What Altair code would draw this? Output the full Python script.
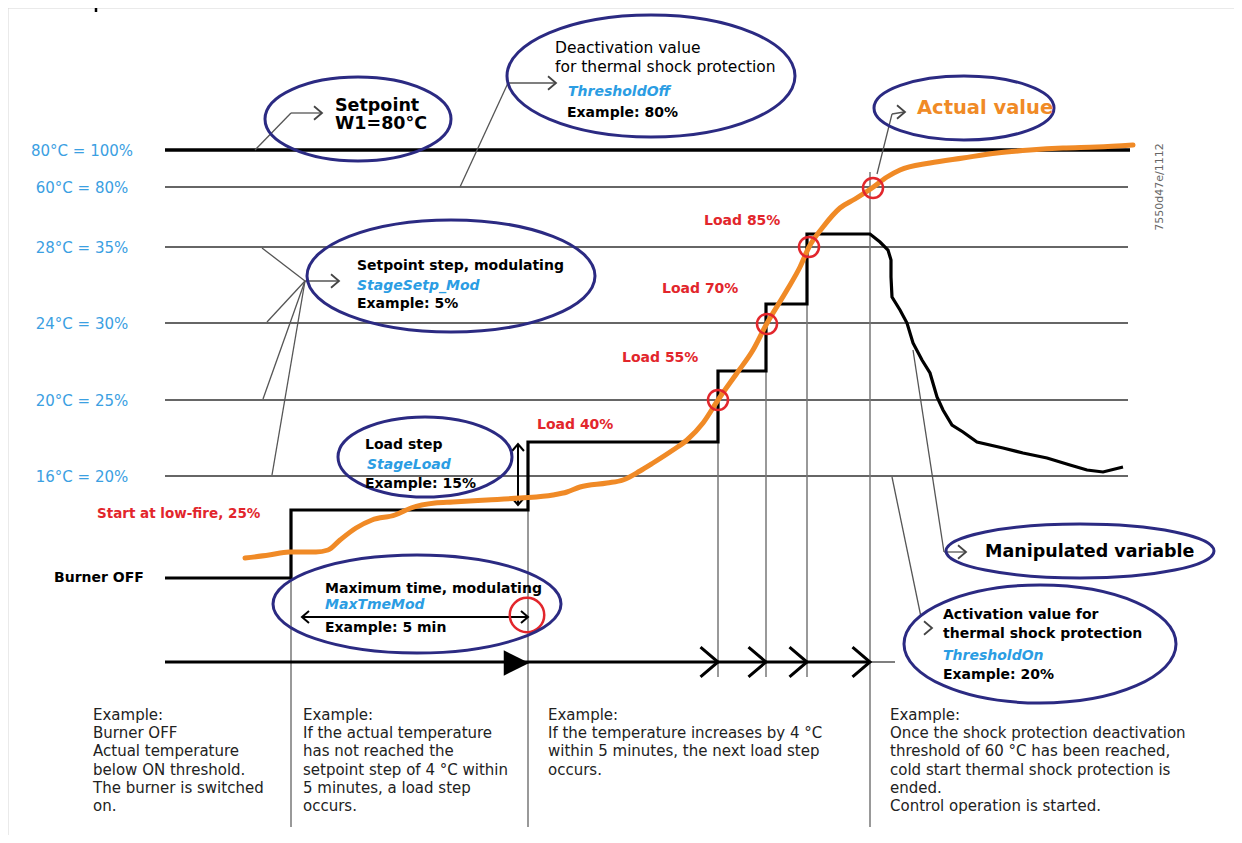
import altair as alt
import pandas as pd

# ---------------- data (diagram units: time to the right, level downwards) ----------------
level_labels = ["80°C = 100%", "60°C = 80%", "28°C = 35%", "24°C = 30%", "20°C = 25%", "16°C = 20%"]
level_y = [150, 187, 247, 323, 400, 476]
level_end = [1130, 1128, 1128, 1128, 1128, 1128]

# manipulated variable (burner load)
mv_t = [165, 291, 291, 528, 528, 718, 718, 766, 766, 807, 807, 870, 880, 888, 891, 891, 892, 900, 907,
        913, 922, 930, 937, 943, 952, 963, 977, 1003, 1023, 1047, 1070, 1087, 1103, 1123]
mv_v = [578, 578, 510, 510, 442, 442, 371, 371, 304, 304, 234, 234, 242, 250, 260, 277, 297, 310, 323,
        343, 360, 373, 397, 410, 425, 432, 442, 448, 453, 458, 465, 470, 472, 467]

# actual value (temperature)
av_t = [245, 269, 289, 316, 328, 340, 356, 372, 395, 411, 435, 453, 487, 520, 553, 567, 580, 607, 623,
        640, 653, 673, 687, 703, 718, 737, 753, 766, 787, 800, 809, 823, 840, 855, 872, 887, 900, 930,
        963, 997, 1030, 1063, 1097, 1133]
av_v = [558, 555, 552, 552, 550, 540, 528, 520, 515, 508, 503, 502, 500, 498, 495, 492, 487, 483, 480,
        471, 463, 450, 440, 423, 400, 373, 350, 325, 290, 267, 247, 227, 208, 199, 188, 177, 170, 163,
        158, 153, 150, 148, 147, 145]

# load-step switching points
sw_t = [718, 767, 809, 873]
sw_v = [400, 324, 247, 188]
load_labels = ["Load 55%", "Load 70%", "Load 85%"]

# step instants on the time line
step_times = [291, 528, 718, 766, 807, 870]
step_tops = [510, 510, 442, 371, 304, 172]
step_bottoms = [827, 827, 677, 677, 677, 827]

# callout ellipses: centre and radii
ell_cx = [358, 651, 964, 451, 425, 417, 1080, 1040]
ell_cy = [119, 76, 108, 276, 457, 604, 551, 644]
ell_rx = [93, 144, 90, 144, 87, 144, 134, 136]
ell_ry = [42, 61, 32, 56, 40, 49, 27, 59]

col1 = ["Example:", "Burner OFF", "Actual temperature", "below ON threshold.", "The burner is switched", "on."]
col2 = ["Example:", "If the actual temperature", "has not reached the", "setpoint step of 4 °C within",
        "5 minutes, a load step", "occurs."]
col3 = ["Example:", "If the temperature increases by 4 °C", "within 5 minutes, the next load step", "occurs."]
col4 = ["Example:", "Once the shock protection deactivation", "threshold of 60 °C has been reached,",
        "cold start thermal shock protection is", "ended.", "Control operation is started."]

# ---------------- styling ----------------
NAVY = "#2b2a82"
BLUE = "#2b9de3"
LBLUE = "#3ba0e2"
RED = "#e2262c"
ORANGE = "#f08a26"
GREY = "#666666"
FONT = "DejaVu Sans"

W, H = 1226, 827
XS = alt.Scale(domain=[8, 8 + W], nice=False, zero=False)
YS = alt.Scale(domain=[8, 8 + H], nice=False, zero=False, reverse=True)


def enc(**kw):
    return dict(x=alt.X("x:Q", scale=XS, axis=None), y=alt.Y("y:Q", scale=YS, axis=None), **kw)


def rules(rows, **mk):
    df = pd.DataFrame(rows, columns=["x", "y", "x2", "y2"])
    return alt.Chart(df).mark_rule(**mk).encode(**enc(), x2="x2:Q", y2="y2:Q")


def texts(rows, **mk):
    df = pd.DataFrame(rows, columns=["x", "y", "t"])
    base = dict(align="left", baseline="alphabetic", font=FONT, fontSize=14, color="black")
    base.update(mk)
    return alt.Chart(df).mark_text(**base).encode(**enc(), text="t:N")


CHEV = "M -1 -0.85 L 0 0 L -1 0.85"
TRI = "M -1 -1 L 1 0 L -1 1 Z"


def symbols(rows, path, size, **mk):
    df = pd.DataFrame(rows, columns=["x", "y", "a"])
    return alt.Chart(df).mark_point(shape=path, size=size, opacity=1, **mk).encode(
        **enc(), angle=alt.Angle("a:Q", scale=None))


layers = []

# frame
layers.append(rules([(8, 8, 1234, 8), (8, 8, 8, 835)], color="#d6d6d6", strokeWidth=1))
layers.append(rules([(96, 8, 96, 12)], color="black", strokeWidth=2.5))

# level lines
lv = pd.DataFrame({"x": [165] * 6, "x2": level_end, "y": level_y, "t": level_labels})
layers.append(alt.Chart(lv.iloc[1:]).mark_rule(color=GREY, strokeWidth=2).encode(**enc(), x2="x2:Q"))
layers.append(alt.Chart(lv.iloc[:1]).mark_rule(color="black", strokeWidth=3.5).encode(**enc(), x2="x2:Q"))
layers.append(alt.Chart(lv).mark_text(align="center", baseline="alphabetic", dy=5.5, font=FONT,
                                      fontSize=15, color=LBLUE).encode(
    x=alt.X("xl:Q", scale=XS, axis=None), y=alt.Y("y:Q", scale=YS, axis=None), text="t:N"
).transform_calculate(xl="82"))

# vertical step instants
layers.append(rules(list(zip(step_times, step_tops, step_times, step_bottoms)), color="#777777",
                    strokeWidth=1.5))

# time line
layers.append(rules([(165, 662, 870, 662)], color="black", strokeWidth=3))
layers.append(rules([(870, 662, 895, 662)], color="#555555", strokeWidth=1.5))
layers.append(symbols([(516.5, 663, 0)], TRI, 650, filled=True, color="black"))
layers.append(symbols([(t, 662, 0) for t in step_times[2:]], CHEV, 1225, filled=False,
                      color="black", strokeWidth=3))

# leader lines
leaders = [(255, 150, 291, 113), (291, 113, 322, 113),
           (460, 187, 508, 83), (508, 83, 556, 83),
           (877, 174, 892, 114), (892, 114, 904, 112),
           (262, 248, 305, 281), (267, 322, 305, 281), (263, 399, 305, 281), (272, 475, 305, 281),
           (305, 281, 338, 281),
           (913, 350, 944, 552), (944, 552, 965, 552),
           (892, 477, 921, 617)]
layers.append(rules(leaders, color="#555555", strokeWidth=1.3))
layers.append(symbols([(322, 113, 0), (556, 83, 0), (905, 112, 0), (339, 281, 0), (966, 552, 0),
                       (932, 628, 0)], CHEV, 256, filled=False, color="#444444", strokeWidth=1.8))

# double arrows (load step, maximum time)
layers.append(rules([(302, 617, 528, 617), (518, 444, 518, 505)], color="black", strokeWidth=2))
layers.append(symbols([(302, 617, 180), (528, 617, 0), (518, 444, 270), (518, 505, 90)], CHEV, 196,
                      filled=False, color="black", strokeWidth=2))

# manipulated variable
mv = pd.DataFrame({"x": mv_t, "y": mv_v, "o": range(len(mv_t))})
layers.append(alt.Chart(mv).mark_line(color="black", strokeWidth=3.2, strokeJoin="miter").encode(
    **enc(), order="o:Q"))

# actual value
av = pd.DataFrame({"x": av_t, "y": av_v, "o": range(len(av_t))})
layers.append(alt.Chart(av).mark_line(color=ORANGE, strokeWidth=5, strokeCap="round",
                                      interpolate="monotone").encode(**enc(), order="o:Q"))

# switching circles
sw = pd.DataFrame({"x": sw_t, "y": sw_v})
layers.append(alt.Chart(sw).mark_point(shape="circle", size=400, filled=False, color=RED,
                                       strokeWidth=2.5, opacity=1).encode(**enc()))
layers.append(alt.Chart(pd.DataFrame({"x": [527], "y": [615]})).mark_point(
    shape="circle", size=1190, filled=False, color=RED, strokeWidth=2.5, opacity=1).encode(**enc()))

# ellipses
ell = pd.DataFrame({"x": ell_cx, "y": ell_cy, "rx": ell_rx, "ry": ell_ry})
ell["shape"] = [f"M -1 0 A 1 {ry / rx:.4f} 0 1 1 1 0 A 1 {ry / rx:.4f} 0 1 1 -1 0 Z"
                for rx, ry in zip(ell_rx, ell_ry)]
ell["size"] = [(2 * rx) ** 2 for rx in ell_rx]
layers.append(alt.Chart(ell).mark_point(filled=False, color=NAVY, strokeWidth=3, opacity=1).encode(
    **enc(), shape=alt.Shape("shape:N", scale=None), size=alt.Size("size:Q", scale=None)))

# ---------------- texts ----------------
layers.append(texts([(335, 111, "Setpoint"), (335, 129, "W1=80°C")], fontSize=17.5, fontWeight="bold"))
layers.append(texts([(917, 114, "Actual value")], fontSize=19.5, fontWeight="bold", color=ORANGE))
layers.append(texts([(985, 557, "Manipulated variable")], fontSize=17.5, fontWeight="bold"))
layers.append(texts([(555, 53, "Deactivation value"), (555, 72, "for thermal shock protection")],
                    fontSize=15.5))
layers.append(texts([
    (567, 117, "Example: 80%"),
    (357, 270, "Setpoint step, modulating"), (357, 308, "Example: 5%"),
    (365, 449, "Load step"), (365, 488, "Example: 15%"),
    (325, 593, "Maximum time, modulating"), (325, 632, "Example: 5 min"),
    (943, 619, "Activation value for"), (943, 638, "thermal shock protection"), (943, 679, "Example: 20%"),
    (54, 582, "Burner OFF"),
], fontWeight="bold"))
layers.append(texts([
    (568, 96, "ThresholdOff"), (357, 290, "StageSetp_Mod"), (367, 469, "StageLoad"),
    (325, 609, "MaxTmeMod"), (943, 660, "ThresholdOn"),
], fontWeight="bold", fontStyle="italic", color=BLUE))
layers.append(texts([(537, 429, "Load 40%"), (622, 362, load_labels[0]), (662, 293, load_labels[1]),
                     (704, 225, load_labels[2])], fontWeight="bold", color=RED))
layers.append(texts([(97, 518, "Start at low-fire, 25%")], fontSize=13.5, fontWeight="bold", color=RED))

para = []
for cx, col in zip([93, 303, 548, 890], [col1, col2, col3, col4]):
    for i, line in enumerate(col):
        para.append((cx, 720 + 18.2 * i, line))
layers.append(texts(para, fontSize=15, color="#222222"))

layers.append(texts([(1160, 187, "7550d47e/1112")], fontSize=11, color="#666666", align="center",
                    baseline="middle", angle=270))

chart = alt.layer(*layers).properties(width=W, height=H, padding=0, autosize="none",
                                      background="white").configure_view(stroke=None)

chart.save("out.html", embed_options={"renderer": "svg", "actions": False})
